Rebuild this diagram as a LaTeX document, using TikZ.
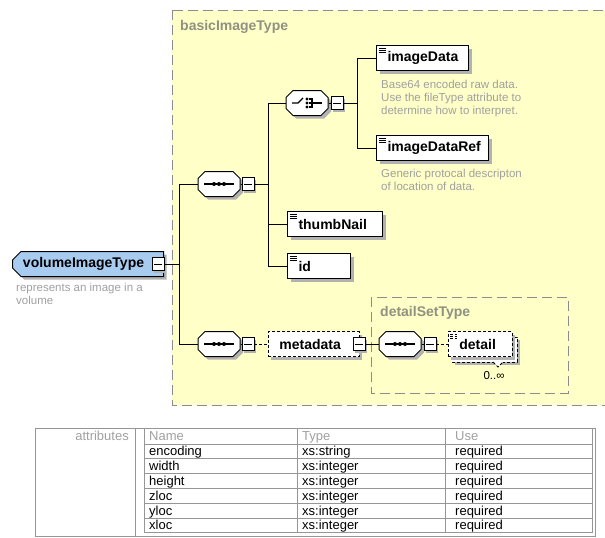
\documentclass[tikz,border=0pt]{standalone}
\usepackage{fontspec}
\setmainfont{Liberation Sans}
\usetikzlibrary{shapes.misc,shadows}

\definecolor{typefill}{RGB}{255,255,200}
\definecolor{typeline}{RGB}{140,140,140}
\definecolor{typelabel}{RGB}{145,145,130}
\definecolor{rootfill}{RGB}{168,204,240}
\definecolor{notegray}{RGB}{160,160,160}
\definecolor{tableline}{RGB}{150,150,150}

\newcommand\elemfont{\fontsize{14}{16}\selectfont\bfseries}
\newcommand\notefont{\fontsize{11.5}{13}\selectfont}
\newcommand\cellfont{\fontsize{13}{14}\selectfont}

\tikzset{
  box shadow/.style={drop shadow={shadow xshift=3pt,shadow yshift=-3pt,fill=black!30,opacity=1}},
  conn/.style={line width=1pt},
  optline/.style={line width=0.8pt,dash pattern=on 3pt off 2pt},
  typebox/.style={draw=typeline,fill=typefill,line width=1pt,dash pattern=on 10pt off 5pt},
  typelbl/.style={anchor=west,inner sep=0pt,text=typelabel,font=\elemfont},
  note/.style={anchor=north west,align=left,inner sep=0pt,text=notegray,font=\notefont},
  elem/.style={draw,line width=1pt,fill=white,anchor=west,minimum height=25pt,
    inner xsep=11pt,inner ysep=0pt,align=left,font=\elemfont,box shadow,
    path picture={
      \foreach \yy in {3,5,7}
        \draw[black,line width=0.8pt] ([xshift=2pt,yshift=-\yy pt]path picture bounding box.north west) -- ++(7pt,0pt);
    }},
  optelem/.style={elem,optline},
  refelem/.style={draw,optline,fill=white,anchor=west,minimum height=25pt,
    inner xsep=11pt,inner ysep=0pt,align=left,font=\elemfont,box shadow},
  compbox/.style={chamfered rectangle,chamfered rectangle xsep=7pt,draw,line width=1pt,
    fill=white,minimum width=42pt,inner sep=0pt,box shadow,
    execute at begin node={\rule[-12.5pt]{0pt}{25pt}}},
  seqbox/.style={compbox,
    path picture={
      \draw[black,line width=1.2pt] ([xshift=-15pt]path picture bounding box.center) -- ([xshift=15pt]path picture bounding box.center);
      \foreach \xx in {-5,0,5}
        \fill[black] ([xshift=\xx pt]path picture bounding box.center) circle (2pt);
    }},
  choicebox/.style={compbox,
    path picture={
      \draw[black,line width=1.2pt] ([xshift=-15pt]path picture bounding box.center) -- ([xshift=-9pt]path picture bounding box.center)
        -- ([xshift=-4pt,yshift=5pt]path picture bounding box.center);
      \foreach \yy in {-4,0,4}
        \fill[black] ([yshift=\yy pt]path picture bounding box.center) circle (1.6pt);
      \draw[black,line width=1.2pt] ([xshift=2pt,yshift=4pt]path picture bounding box.center) -- ([xshift=5pt,yshift=4pt]path picture bounding box.center)
        -- ([xshift=5pt,yshift=-4pt]path picture bounding box.center) -- ([xshift=2pt,yshift=-4pt]path picture bounding box.center);
      \draw[black,line width=1.2pt] ([xshift=2pt]path picture bounding box.center) -- ([xshift=15pt]path picture bounding box.center);
    }},
  minusbox/.style={draw,line width=0.8pt,fill=white,minimum width=12pt,minimum height=13pt,inner sep=0pt,
    drop shadow={shadow xshift=2pt,shadow yshift=-2pt,fill=black!30,opacity=1},
    path picture={
      \draw[black,line width=0.8pt] ([xshift=-4pt]path picture bounding box.center) -- ([xshift=4pt]path picture bounding box.center);
    }},
  rootbox/.style={chamfered rectangle,chamfered rectangle corners={north west,south west},
    chamfered rectangle xsep=5pt,draw,line width=1pt,fill=rootfill,anchor=west,
    minimum width=151pt,minimum height=25pt,inner sep=0pt,font=\elemfont,box shadow},
  tline/.style={draw=tableline,line width=0.8pt},
  cell/.style={anchor=base west,inner sep=0pt,font=\cellfont},
  cellhead/.style={cell,text=notegray}
}

\begin{document}
\begin{tikzpicture}[x=1pt,y=-1pt]
\useasboundingbox (0,0) rectangle (605,538);

% basicImageType
\draw[typebox] (172,10) rectangle (615,405);
\node[typelbl] (basiclbl) at (180,27) {basicImageType};

% detailSetType
\draw[typebox] (371,297) rectangle (568,393);
\node[typelbl] (detaillbl) at (380,313) {detailSetType};

% Root element
\node[rootbox] (vit) at (12,264) {\makebox[130pt][l]{volumeImageType}};
\node[minusbox] (vitm) at (158,264) {};
\node[note] (vitnote) at (16,283) {represents an image in a\\volume};

% Sequence with the choice
\node[seqbox] (seq1) at (219,184) {};
\node[minusbox] (seq1m) at (248,184) {};
\node[choicebox] (choice) at (307,103) {};
\node[minusbox] (chm) at (337,103) {};

\node[elem,text width=70pt] (imgdata) at (376,58) {imageData};
\node[note] (imgdatanote) at (381,80) {Base64 encoded raw data.\\Use the fileType attribute to\\determine how to interpret.};
\node[elem,text width=90pt] (imgref) at (376,148) {imageDataRef};
\node[note] (imgrefnote) at (381,169) {Generic protocal descripton\\of location of data.};

\node[elem,text width=73pt] (thumb) at (287,224) {thumbNail};
\node[elem,text width=41pt] (id) at (287,266) {id};

% Sequence with metadata
\node[seqbox] (seq2) at (219,344) {};
\node[minusbox] (seq2m) at (248,344) {};
\node[refelem,text width=69pt] (meta) at (268,344) {metadata};
\node[minusbox] (metam) at (359,344) {};
\node[seqbox] (seq3) at (400,344) {};
\node[minusbox] (seq3m) at (430,344) {};

% detail, repeated
\draw[optline,fill=white,box shadow] (452,337) rectangle (517,362);
\draw[optline,fill=white] (493,362) -- (498,367) -- (503,362);
\node[optelem,text width=42pt] (detail) at (448,344) {detail};
\node[inner sep=0pt,font=\notefont] (detailocc) at (494,376) {0..∞};

% Connectors
\draw[conn] (vitm.east) -- ++(15,0) coordinate (trunk);
\draw[conn] (seq1.west) -| (trunk) |- (seq2.west);
\draw[conn] (seq1) -- (seq1m);
\draw[conn] (seq1m.east) -- ++(14,0) coordinate (br1);
\draw[conn] (choice.west) -| (br1) |- (id.west);
\draw[conn] (thumb.west) -- (thumb.west -| br1);
\draw[conn] (choice) -- (chm);
\draw[conn] (chm.east) -- ++(14,0) coordinate (br2);
\draw[conn] (imgdata.west) -| (br2) |- (imgref.west);
\draw[conn] (seq2) -- (seq2m);
\draw[optline] (seq2m) -- (meta);
\draw[conn] (metam) -- (seq3);
\draw[conn] (seq3) -- (seq3m);
\draw[optline] (seq3m) -- (detail);

% Attributes table
\draw[tline] (35,428) rectangle (595,536);
\draw[tline] (135,428) -- (135,536);
\draw[tline] (144,428) rectangle (592,532.8);
\foreach \x in {297,445}
  \draw[tline] (\x,428) -- (\x,532.8);
\foreach \i in {0,...,5}
  \draw[tline] (144,444+14.8*\i) -- (592,444+14.8*\i);

\node[cellhead,anchor=base east] (attrlbl) at (129,440) {attributes};
\node[cellhead] (hname) at (149,440) {Name};
\node[cellhead] (htype) at (302,440) {Type};
\node[cellhead] (huse) at (455,440) {Use};
\foreach \n/\t [count=\i from 0] in {encoding/xs:string,width/xs:integer,height/xs:integer,zloc/xs:integer,yloc/xs:integer,xloc/xs:integer} {
  \node[cell] (name\i) at (149,455.9+14.8*\i) {\n};
  \node[cell] (type\i) at (302,455.9+14.8*\i) {\t};
  \node[cell] (use\i) at (455,455.9+14.8*\i) {required};
}

\end{tikzpicture}
\end{document}
